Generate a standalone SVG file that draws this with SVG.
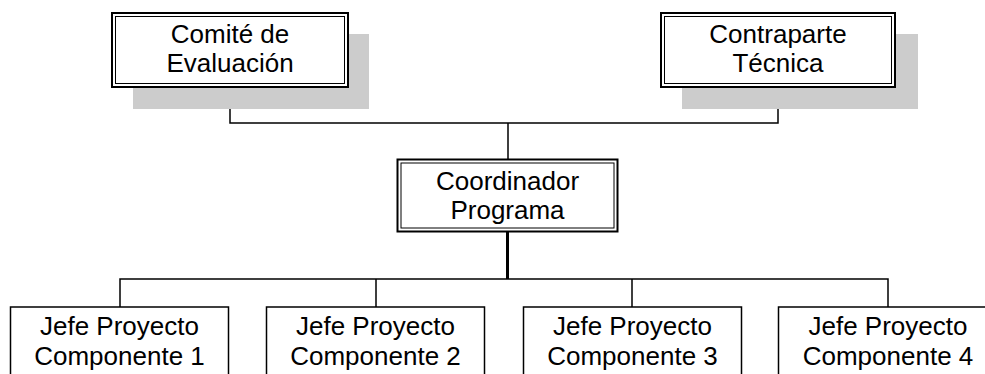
<svg xmlns="http://www.w3.org/2000/svg" width="985" height="374" viewBox="0 0 985 374">
<style>
.t{font-family:"Liberation Sans",Arial,sans-serif;font-size:26px;fill:#000;text-anchor:middle}
.sh{fill:#cccccc}
.o{fill:#fff;stroke:#000;stroke-width:2}
.i{fill:none;stroke:#000;stroke-width:1}
.b{fill:#fff;stroke:#000;stroke-width:1.5}
.c{fill:none;stroke:#000;stroke-width:1.5}
</style>
<rect width="985" height="374" fill="#fff"/>
<g id="connectors">
<path class="c" d="M230 87V123H778V87M508 123V159M120 307V279H888V307M376 279V307M632 279V307"/>
<path fill="none" stroke="#000" stroke-width="3" d="M507.5 232V279"/>
</g>
<g id="comite">
<rect class="sh" x="133" y="34" width="236" height="75"/>
<rect class="o" x="112" y="13" width="236" height="74"/>
<rect class="i" x="115.5" y="16.5" width="229" height="67"/>
<text class="t" x="230" y="43">Comité de</text>
<text class="t" x="230" y="72">Evaluación</text>
</g>
<g id="contraparte">
<rect class="sh" x="682" y="34" width="236" height="75"/>
<rect class="o" x="661" y="13" width="234" height="74"/>
<rect class="i" x="664.5" y="16.5" width="227" height="67"/>
<text class="t" x="778" y="43">Contraparte</text>
<text class="t" x="778" y="72">Técnica</text>
</g>
<g id="coordinador">
<rect class="o" x="397.5" y="159.5" width="220" height="72"/>
<rect class="i" x="401" y="163" width="213" height="65"/>
<text class="t" x="507.5" y="190">Coordinador</text>
<text class="t" x="507.5" y="219">Programa</text>
</g>
<g id="jefe1">
<rect class="b" x="10.5" y="307" width="218" height="80"/>
<text class="t" x="119.5" y="335">Jefe Proyecto</text>
<text class="t" x="119.5" y="365">Componente 1</text>
</g>
<g id="jefe2">
<rect class="b" x="266.5" y="307" width="218" height="80"/>
<text class="t" x="375.5" y="335">Jefe Proyecto</text>
<text class="t" x="375.5" y="365">Componente 2</text>
</g>
<g id="jefe3">
<rect class="b" x="523.5" y="307" width="218" height="80"/>
<text class="t" x="632.5" y="335">Jefe Proyecto</text>
<text class="t" x="632.5" y="365">Componente 3</text>
</g>
<g id="jefe4">
<rect class="b" x="778.5" y="307" width="219" height="80"/>
<text class="t" x="888" y="335">Jefe Proyecto</text>
<text class="t" x="888" y="365">Componente 4</text>
</g>
</svg>
